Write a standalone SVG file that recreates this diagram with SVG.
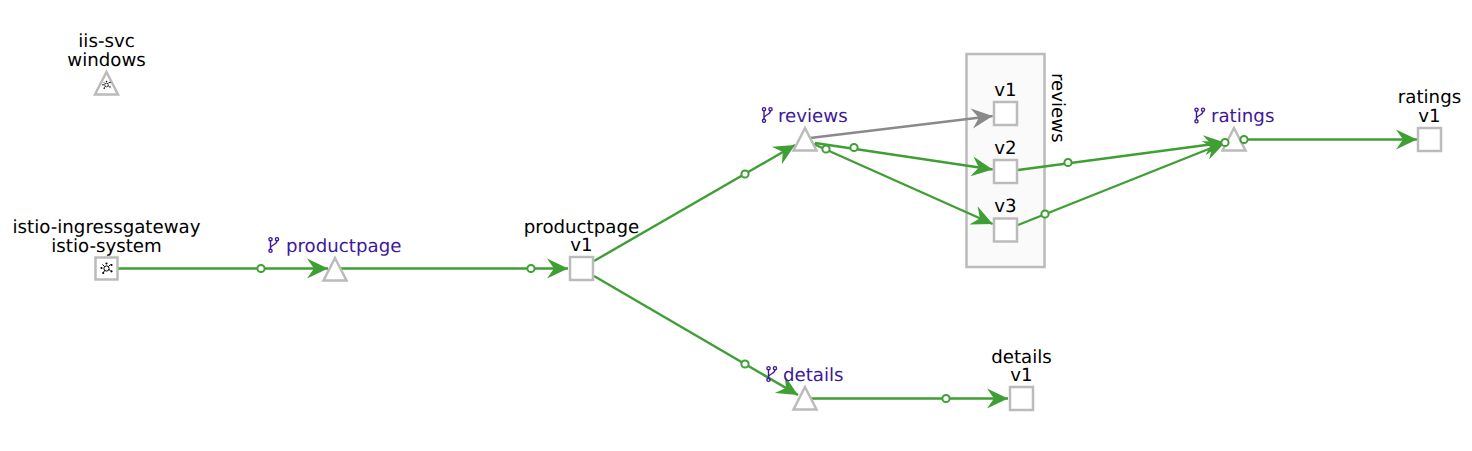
<svg xmlns="http://www.w3.org/2000/svg" width="1472" height="451" viewBox="0 0 1472 451">
<style>
text{font-family:"DejaVu Sans",Verdana,sans-serif;font-size:18.200px;fill:#000;text-rendering:geometricPrecision}
.m{text-anchor:middle}
.svc{fill:#40199a}
.n{fill:#fff;stroke:#bbb;stroke-width:2.500}
.g{fill:none;stroke:#3f9f35;stroke-width:2.400;marker-end:url(#ag)}
.y{fill:none;stroke:#8a8a8a;stroke-width:2.400;marker-end:url(#ay)}
.d{fill:#fff;stroke:#3f9f35;stroke-width:2}
.br{fill:none;stroke:#40199a;stroke-width:1.400}
.hub{fill:none;stroke:#000;stroke-width:1}
.hd{fill:#000}
</style>
<defs>
<marker id="ag" markerUnits="userSpaceOnUse" markerWidth="24" markerHeight="24" viewBox="-22 -12 24 24" refX="0" refY="0" orient="auto"><path d="M0,0L-21,-10L-14,0L-21,10Z" fill="#3f9f35"/></marker>
<marker id="ay" markerUnits="userSpaceOnUse" markerWidth="24" markerHeight="24" viewBox="-22 -12 24 24" refX="0" refY="0" orient="auto"><path d="M0,0L-21,-10L-14,0L-21,10Z" fill="#8a8a8a"/></marker>
<g id="hub"><circle r="2.600" class="hub"/><path class="hub" d="M-2,-2L-4,-4M2,-2L4,-4M-2,2L-3,4M2,1L4,2"/><circle cx="-5" cy="-.5" r="1.100" class="hd"/><circle cx="5" cy="-3.500" r="1.100" class="hd"/><circle cx="-3.300" cy="4.500" r="1.100" class="hd"/><circle cx="5" cy="2.800" r="1.100" class="hd"/><circle cx="0" cy="-5" r="1.100" class="hd"/></g>
<g id="br"><circle cx="-3" cy="-5.800" r="1.600" class="br"/><circle cx="3.500" cy="-5.800" r="1.600" class="br"/><circle cx="-3" cy="5.800" r="1.600" class="br"/><path class="br" d="M-3,-4.200V4.200M3.500,-4.200C3.500,-.5 -1.500,-.5 -3,2.500"/></g>
</defs>
<g id="group-reviews"><rect x="966.500" y="54" width="78" height="213" fill="#fafafa" stroke="#bbb" stroke-width="2.500"/><text transform="translate(1052,73) rotate(90)">reviews</text></g>
<g id="connectors">
<path class="g" d="M118,268.500H328"/>
<path class="g" d="M341,268.500H568"/>
<path class="g" d="M594,261L795,145"/>
<path class="g" d="M594,276L798,395"/>
<path class="g" d="M811,398.500H1008"/>
<path class="y" d="M810,138L992.700,116"/>
<path class="g" d="M815,143L992.700,169.500"/>
<path class="g" d="M809,142L992.700,224"/>
<path class="g" d="M1018,170L1225,142.500"/>
<path class="g" d="M1018,225L1225,142.500"/>
<path class="g" d="M1244,139.500H1417"/>
<circle class="d" cx="261" cy="268.500" r="3.600"/>
<circle class="d" cx="531" cy="268.500" r="3.600"/>
<circle class="d" cx="745" cy="174" r="3.600"/>
<circle class="d" cx="745" cy="364" r="3.600"/>
<circle class="d" cx="946" cy="398.500" r="3.600"/>
<circle class="d" cx="854" cy="147.500" r="3.600"/>
<circle class="d" cx="826" cy="149" r="3.600"/>
<circle class="d" cx="1068" cy="162.500" r="3.600"/>
<circle class="d" cx="1045" cy="214" r="3.600"/>
</g>
<g id="iis-svc"><path class="n" d="M106.500,72L118,94.500H95Z"/><use href="#hub" transform="translate(106.500,85) scale(.7)"/><text class="m"><tspan x="106.500" y="47">iis-svc</tspan><tspan x="106.500" y="65.500">windows</tspan></text></g>
<g id="istio-ingressgateway"><rect class="n" x="95.500" y="257.500" width="22" height="22"/><use href="#hub" transform="translate(106.500,268.500)"/><text class="m"><tspan x="106.500" y="233">istio-ingressgateway</tspan><tspan x="106.500" y="251.500">istio-system</tspan></text></g>
<g id="svc-productpage"><path class="n" d="M335,258L346.500,280.500H323.500Z"/><use href="#br" transform="translate(273.500,245)"/><text class="svc" x="286" y="251.500">productpage</text></g>
<g id="productpage-v1"><rect class="n" x="570" y="257" width="23" height="23"/><text class="m"><tspan x="581.500" y="232.700">productpage</tspan><tspan x="581.500" y="251.200">v1</tspan></text></g>
<g id="svc-reviews"><path class="n" d="M805,128L816.500,150.500H793.500Z"/><use href="#br" transform="translate(767,115)"/><text class="svc" x="778" y="121.500">reviews</text></g>
<g id="reviews-v1"><rect class="n" x="994" y="102" width="23" height="23"/><text class="m" x="1005.500" y="96">v1</text></g>
<g id="reviews-v2"><rect class="n" x="994" y="160" width="23" height="23"/><text class="m" x="1005.500" y="154">v2</text></g>
<g id="reviews-v3"><rect class="n" x="994" y="218.500" width="23" height="23"/><text class="m" x="1005.500" y="212">v3</text></g>
<g id="svc-ratings"><path class="n" d="M1234,128L1245.500,150.500H1222.500Z"/><use href="#br" transform="translate(1199.500,115.500)"/><text class="svc" x="1211" y="121.500">ratings</text></g>
<circle class="d" cx="1225" cy="142.500" r="3.600"/>
<circle class="d" cx="1244" cy="139.500" r="3.600"/>
<g id="ratings-v1"><rect class="n" x="1418" y="128" width="23" height="23"/><text class="m"><tspan x="1429.500" y="103">ratings</tspan><tspan x="1429.500" y="122">v1</tspan></text></g>
<g id="svc-details"><path class="n" d="M805,387L816.500,409.500H793.500Z"/><use href="#br" transform="translate(771.500,374)"/><text class="svc" x="783" y="380.500">details</text></g>
<g id="details-v1"><rect class="n" x="1010" y="387" width="23" height="23"/><text class="m"><tspan x="1021.500" y="362.500">details</tspan><tspan x="1021.500" y="381">v1</tspan></text></g>
</svg>
